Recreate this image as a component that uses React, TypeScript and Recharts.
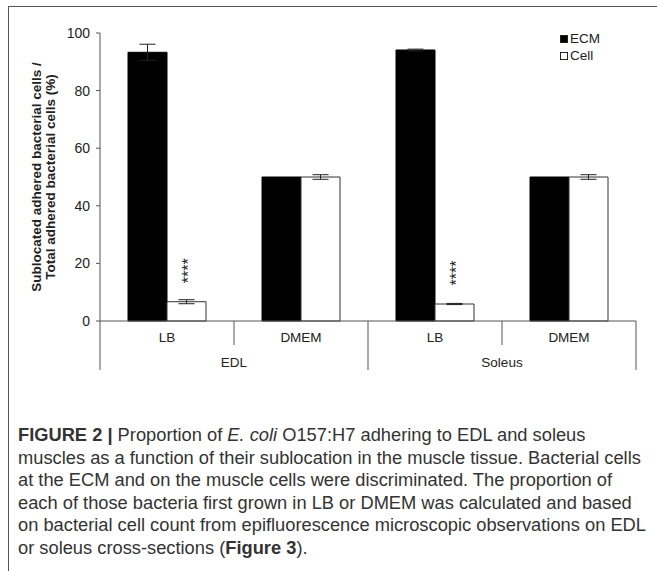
import { Bar, BarChart, ErrorBar, LabelList, XAxis, YAxis } from 'recharts'

const muscles = ['EDL', 'EDL', 'Soleus', 'Soleus']
const media = ['LB', 'DMEM', 'LB', 'DMEM']
const ecm = [93.3, 50, 94.1, 50]
const ecmErr = [2.8, 0, 0.3, 0]
const cell = [6.7, 50, 5.9, 50]
const cellErr = [0.7, 0.8, 0.2, 0.8]
const marks = ['****', '', '****', '']
const yTicks = [0, 20, 40, 60, 80, 100]
const legendItems = [
  { name: 'ECM', fill: '#000' },
  { name: 'Cell', fill: '#fff' },
]

const data = media.map((m, i) => ({
  id: `${muscles[i]}-${m}`,
  medium: m,
  muscle: muscles[i],
  ecm: ecm[i],
  ecmErr: ecmErr[i],
  cell: cell[i],
  cellErr: cellErr[i],
  mark: marks[i],
}))

const axisColor = '#555'
const textColor = '#222'
const font = 'Liberation Sans, Arial, sans-serif'

// medium label under each bar pair, plus the divider lines and the muscle group label
function CategoryTick(props: any) {
  const { x, y, payload, index, width } = props
  const half = payload?.offset ?? width / (2 * data.length)
  const row = data[index]
  const isGroupEnd = index % 2 === 1
  return (
    <g>
      <text x={x} y={y + 16} textAnchor="middle" dominantBaseline="central" fill={textColor} fontSize={13.5} fontFamily={font}>
        {row.medium}
      </text>
      <line x1={x + half} x2={x + half} y1={y} y2={y + (isGroupEnd ? 49 : 24)} stroke={axisColor} />
      {index === 0 && <line x1={x - half} x2={x - half} y1={y} y2={y + 49} stroke={axisColor} />}
      {index % 2 === 0 && (
        <text x={x + half} y={y + 41} textAnchor="middle" dominantBaseline="central" fill={textColor} fontSize={13.5} fontFamily={font}>
          {row.muscle}
        </text>
      )}
    </g>
  )
}

function YTitle({ viewBox }: any) {
  const cy = viewBox.y + viewBox.height / 2
  const lines = ['Sublocated adhered bacterial cells /', 'Total adhered bacterial cells (%)']
  return (
    <g>
      {lines.map((t, i) => (
        <text
          key={t}
          x={36 + i * 14}
          y={cy}
          transform={`rotate(-90 ${36 + i * 14} ${cy})`}
          textAnchor="middle"
          dominantBaseline="central"
          fontSize={13.5}
          fontWeight="bold"
          fill={textColor}
          fontFamily={font}
        >
          {t}
        </text>
      ))}
    </g>
  )
}

function Stars(props: any) {
  const { x, y, width, value } = props
  if (!value) return null
  const cx = x + width / 2 + 2
  const cy = y - 31
  return (
    <text
      x={cx}
      y={cy}
      transform={`rotate(-90 ${cx} ${cy})`}
      textAnchor="middle"
      dominantBaseline="central"
      fontSize={16}
      fill={textColor}
      fontFamily={font}
    >
      {value}
    </text>
  )
}

function LegendBox() {
  return (
    <div style={{ position: 'absolute', left: 560, top: 31, fontFamily: font, fontSize: 13.5, color: textColor, lineHeight: '16.5px' }}>
      {legendItems.map((it) => (
        <div key={it.name} style={{ display: 'flex', alignItems: 'center' }}>
          <span style={{ display: 'inline-block', width: 6, height: 6, background: it.fill, border: '1px solid #222', marginRight: 2 }} />
          {it.name}
        </div>
      ))}
    </div>
  )
}

const captionStyle = {
  fontFamily: font,
  fontSize: 18.3,
  color: '#333',
  lineHeight: '22.5px',
  whiteSpace: 'nowrap' as const,
}

export default function App() {
  return (
    <div style={{ position: 'absolute', left: 0, top: 0, width: 657, height: 571, background: '#fff', overflow: 'hidden' }}>
      <div
        style={{
          position: 'absolute',
          left: 8,
          top: 6,
          width: 660,
          height: 580,
          borderTop: '1.5px solid #555',
          borderLeft: '1.5px solid #555',
        }}
      />
      <div style={{ position: 'absolute', left: 0, top: 0 }}>
        <BarChart
          width={657}
          height={400}
          data={data}
          margin={{ top: 33, right: 21, left: 0, bottom: 19 }}
          barCategoryGap={28}
          barGap={0}
        >
          <XAxis
            dataKey="id"
            height={60}
            tickLine={false}
            tickSize={0}
            tickMargin={0}
            axisLine={{ stroke: axisColor }}
            tick={<CategoryTick />}
            interval={0}
          />
          <YAxis
            width={100}
            domain={[0, 100]}
            ticks={yTicks}
            tickSize={4}
            tickMargin={6}
            axisLine={{ stroke: axisColor }}
            tickLine={{ stroke: axisColor }}
            tick={{ fill: textColor, fontSize: 14, fontFamily: font }}
            label={{ content: YTitle }}
          />
          <Bar dataKey="ecm" name="ECM" fill="#000" stroke="#000" isAnimationActive={false}>
            <ErrorBar dataKey="ecmErr" width={8} stroke="#222" strokeWidth={1} />
          </Bar>
          <Bar dataKey="cell" name="Cell" fill="#fff" stroke="#333" strokeWidth={1} isAnimationActive={false}>
            <ErrorBar dataKey="cellErr" width={8} stroke="#222" strokeWidth={1} />
            <LabelList dataKey="mark" content={<Stars />} />
          </Bar>
        </BarChart>
      </div>
      <LegendBox />
      <div style={{ position: 'absolute', left: 18, top: 424, ...captionStyle }}>
        <div>
          <b>FIGURE 2 |</b> Proportion of <i>E. coli</i> O157:H7 adhering to EDL and soleus
        </div>
        <div>muscles as a function of their sublocation in the muscle tissue. Bacterial cells</div>
        <div>at the ECM and on the muscle cells were discriminated. The proportion of</div>
        <div>each of those bacteria first grown in LB or DMEM was calculated and based</div>
        <div>on bacterial cell count from epifluorescence microscopic observations on EDL</div>
        <div>
          or soleus cross-sections (<b>Figure 3</b>).
        </div>
      </div>
    </div>
  )
}
